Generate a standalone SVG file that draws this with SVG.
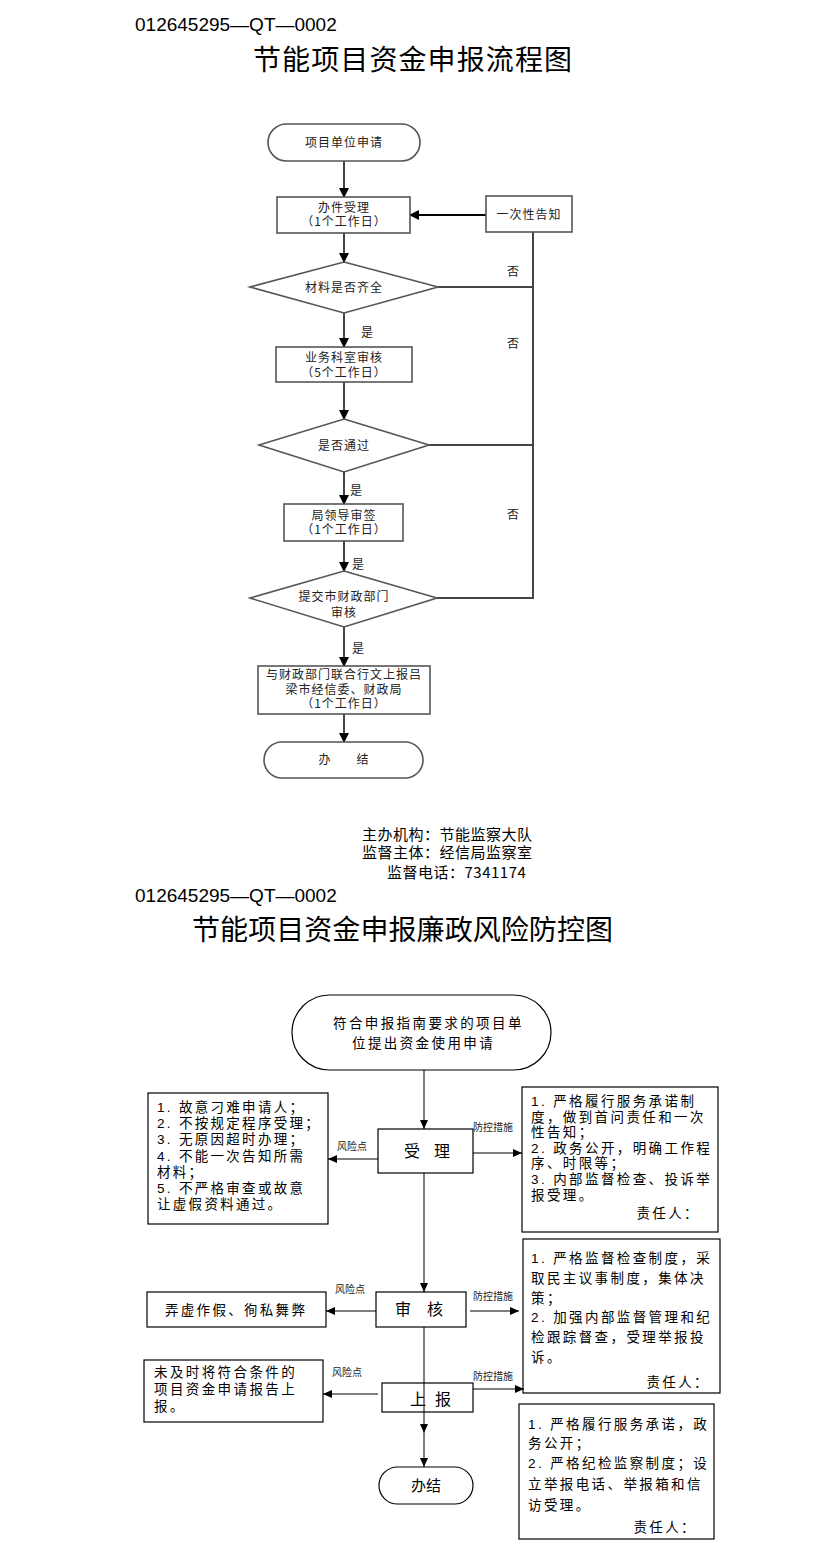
<svg xmlns="http://www.w3.org/2000/svg" width="823" height="1555" viewBox="0 0 823 1555">
<defs>
<style>
text{font-family:"Noto Sans CJK SC","Liberation Sans",sans-serif;fill:#000}
.code{font-family:"Liberation Sans","Noto Sans CJK SC",sans-serif;font-size:19px}
.title{font-size:28px}
.n{font-size:12px;letter-spacing:1px;text-anchor:middle;fill:#222}
.lbl{font-size:12px;fill:#222}
.foot{font-size:15px;letter-spacing:0.5px}
.t14{font-family:"Liberation Sans","Noto Sans CJK SC",sans-serif;font-size:13.5px;letter-spacing:2.3px}
.t14c{font-family:"Liberation Sans","Noto Sans CJK SC",sans-serif;font-size:13.5px;letter-spacing:2.4px}
.big{font-size:16px;text-anchor:middle}
.sm{font-size:10px;fill:#222}
.gbox{fill:#fff;stroke:#555;stroke-width:1.6}
.bbox{fill:none;stroke:#000;stroke-width:1.2}
.gl{fill:none;stroke:#444;stroke-width:2}
.bl{fill:none;stroke:#000;stroke-width:1}
</style>
<marker id="ah" markerUnits="userSpaceOnUse" markerWidth="10" markerHeight="10" refX="9" refY="5" orient="auto">
<path d="M0,0 L10,5 L0,10 Z" fill="#000"/>
</marker>
<marker id="ahs" markerUnits="userSpaceOnUse" markerWidth="9" markerHeight="8" refX="9" refY="4" orient="auto">
<path d="M0,0 L9,4 L0,8 Z" fill="#000"/>
</marker>
</defs>
<rect width="823" height="1555" fill="#fff"/>

<!-- Headers -->
<text class="code" x="135" y="31">012645295—QT—0002</text>
<text class="title" x="253" y="70" textLength="319">节能项目资金申报流程图</text>

<!-- Top flowchart connectors -->
<g id="connectors-top">
<line class="gl" x1="344" y1="161" x2="344" y2="197" marker-end="url(#ah)"/>
<line x1="486" y1="215" x2="410" y2="215" stroke="#000" stroke-width="2.2" marker-end="url(#ah)"/>
<line class="gl" x1="344" y1="233" x2="344" y2="262" marker-end="url(#ah)"/>
<line class="gl" x1="438" y1="287" x2="533" y2="287"/>
<line class="gl" x1="533" y1="232" x2="533" y2="599"/>
<line class="gl" x1="344" y1="313" x2="344" y2="347" marker-end="url(#ah)"/>
<line class="gl" x1="344" y1="382" x2="344" y2="419" marker-end="url(#ah)"/>
<line class="gl" x1="429" y1="445" x2="533" y2="445"/>
<line class="gl" x1="344" y1="472" x2="344" y2="504" marker-end="url(#ah)"/>
<line class="gl" x1="344" y1="541" x2="344" y2="571" marker-end="url(#ah)"/>
<line class="gl" x1="437" y1="598" x2="533" y2="598"/>
<line class="gl" x1="344" y1="627" x2="344" y2="666" marker-end="url(#ah)"/>
<line class="gl" x1="344" y1="714" x2="344" y2="742" marker-end="url(#ah)"/>
<text class="lbl" x="507" y="276">否</text>
<text class="lbl" x="507" y="348">否</text>
<text class="lbl" x="507" y="519">否</text>
<text class="lbl" x="361" y="337">是</text>
<text class="lbl" x="350" y="495">是</text>
<text class="lbl" x="352" y="569">是</text>
<text class="lbl" x="352" y="653">是</text>
</g>

<g id="start">
<rect class="gbox" x="268" y="124" width="152" height="37" rx="18.5"/>
<text class="n" x="344" y="147">项目单位申请</text>
</g>
<g id="accept">
<rect class="gbox" x="277" y="197" width="133" height="36"/>
<text class="n" x="344" y="212">办件受理</text>
<text class="n" x="344" y="226">（1个工作日）</text>
</g>
<g id="notify">
<rect class="gbox" x="486" y="196" width="86" height="36"/>
<text class="n" x="529" y="219">一次性告知</text>
</g>
<g id="check1">
<polygon class="gbox" points="344,262 438,287 344,313 250,287"/>
<text class="n" x="344" y="292">材料是否齐全</text>
</g>
<g id="review">
<rect class="gbox" x="276" y="347" width="136" height="35"/>
<text class="n" x="344" y="362">业务科室审核</text>
<text class="n" x="344" y="377">（5个工作日）</text>
</g>
<g id="check2">
<polygon class="gbox" points="344,419 429,445 344,472 259,445"/>
<text class="n" x="344" y="450">是否通过</text>
</g>
<g id="sign">
<rect class="gbox" x="284" y="504" width="119" height="37"/>
<text class="n" x="344" y="520">局领导审签</text>
<text class="n" x="344" y="534">（1个工作日）</text>
</g>
<g id="check3">
<polygon class="gbox" points="344,571 437,598 344,627 250,598"/>
<text class="n" x="344" y="601">提交市财政部门</text>
<text class="n" x="344" y="617">审核</text>
</g>
<g id="report">
<rect class="gbox" x="258" y="666" width="172" height="48"/>
<text class="n" x="344" y="679">与财政部门联合行文上报吕</text>
<text class="n" x="344" y="694">梁市经信委、财政局</text>
<text class="n" x="344" y="708">（1个工作日）</text>
</g>
<g id="end-top">
<rect class="gbox" x="264" y="742" width="159" height="36" rx="18"/>
<text class="n" x="325" y="764">办</text>
<text class="n" x="363" y="764">结</text>
</g>

<!-- Footer -->
<text class="foot" x="362" y="840">主办机构：节能监察大队</text>
<text class="foot" x="362" y="858">监督主体：经信局监察室</text>
<text class="foot" x="387" y="878">监督电话：7341174</text>

<!-- Second header -->
<text class="code" x="135" y="902">012645295—QT—0002</text>
<text class="title" x="192" y="940" textLength="421">节能项目资金申报廉政风险防控图</text>

<!-- Bottom connectors -->
<g id="connectors-bottom">
<line class="bl" x1="424" y1="1070" x2="424" y2="1129" marker-end="url(#ahs)"/>
<line class="bl" x1="424" y1="1173" x2="424" y2="1292" marker-end="url(#ahs)"/>
<line class="bl" x1="424" y1="1327" x2="424" y2="1433" marker-end="url(#ahs)"/>
<line class="bl" x1="424" y1="1433" x2="424" y2="1467" marker-end="url(#ahs)"/>
<line class="bl" x1="378" y1="1159" x2="328" y2="1159" marker-end="url(#ahs)"/>
<line class="bl" x1="473" y1="1153" x2="522" y2="1153" marker-end="url(#ahs)"/>
<line class="bl" x1="376" y1="1311" x2="326" y2="1311" marker-end="url(#ahs)"/>
<line class="bl" x1="470" y1="1311" x2="519" y2="1311" marker-end="url(#ahs)"/>
<line class="bl" x1="378" y1="1394" x2="323" y2="1394" marker-end="url(#ahs)"/>
<line class="bl" x1="473" y1="1389" x2="524" y2="1389" marker-end="url(#ahs)"/>
<text class="sm" x="337" y="1150">风险点</text>
<text class="sm" x="473" y="1131">防控措施</text>
<text class="sm" x="335" y="1293">风险点</text>
<text class="sm" x="473" y="1300">防控措施</text>
<text class="sm" x="332" y="1376">风险点</text>
<text class="sm" x="473" y="1380">防控措施</text>
</g>

<g id="apply">
<rect class="bbox" x="292" y="995" width="259" height="75" rx="37.5"/>
<text class="t14c" x="333" y="1028">符合申报指南要求的项目单</text>
<text class="t14c" x="352" y="1048">位提出资金使用申请</text>
</g>
<g id="shouli">
<rect class="bbox" x="378" y="1129" width="95" height="44"/>
<text class="big" x="412" y="1157">受</text>
<text class="big" x="442" y="1157">理</text>
</g>
<g id="risk1">
<rect class="bbox" x="148" y="1093" width="180" height="131"/>
<text class="t14" x="157" y="1112">1. 故意刁难申请人；</text>
<text class="t14" x="157" y="1128">2. 不按规定程序受理；</text>
<text class="t14" x="157" y="1144">3. 无原因超时办理；</text>
<text class="t14" x="157" y="1161">4. 不能一次告知所需</text>
<text class="t14" x="157" y="1177">材料；</text>
<text class="t14" x="157" y="1193">5. 不严格审查或故意</text>
<text class="t14" x="157" y="1209">让虚假资料通过。</text>
</g>
<g id="measure1">
<rect class="bbox" x="522" y="1087" width="196" height="145"/>
<text class="t14c" x="531" y="1106">1. 严格履行服务承诺制</text>
<text class="t14c" x="531" y="1122">度，做到首问责任和一次</text>
<text class="t14c" x="531" y="1137">性告知；</text>
<text class="t14c" x="531" y="1153">2. 政务公开，明确工作程</text>
<text class="t14c" x="531" y="1168">序、时限等；</text>
<text class="t14c" x="531" y="1184">3. 内部监督检查、投诉举</text>
<text class="t14c" x="531" y="1200">报受理。</text>
<text class="t14c" x="700" y="1218" text-anchor="end">责任人：</text>
</g>
<g id="shenhe">
<rect class="bbox" x="376" y="1292" width="90" height="35"/>
<text class="big" x="403" y="1315">审</text>
<text class="big" x="435" y="1315">核</text>
</g>
<g id="risk2">
<rect class="bbox" x="147" y="1292" width="179" height="35"/>
<text class="t14" x="165" y="1315">弄虚作假、徇私舞弊</text>
</g>
<g id="measure2">
<rect class="bbox" x="523" y="1239" width="197" height="154"/>
<text class="t14c" x="531" y="1263">1. 严格监督检查制度，采</text>
<text class="t14c" x="531" y="1283">取民主议事制度，集体决</text>
<text class="t14c" x="531" y="1303">策；</text>
<text class="t14c" x="531" y="1322">2. 加强内部监督管理和纪</text>
<text class="t14c" x="531" y="1342">检跟踪督查，受理举报投</text>
<text class="t14c" x="531" y="1362">诉。</text>
<text class="t14c" x="710" y="1387" text-anchor="end">责任人：</text>
</g>
<g id="shangbao">
<rect class="bbox" x="382" y="1383" width="91" height="29"/>
<text class="big" x="418" y="1405">上</text>
<text class="big" x="443" y="1405">报</text>
</g>
<g id="risk3">
<rect class="bbox" x="144" y="1360" width="179" height="62"/>
<text class="t14c" x="154" y="1377">未及时将符合条件的</text>
<text class="t14c" x="154" y="1394">项目资金申请报告上</text>
<text class="t14c" x="154" y="1411">报。</text>
</g>
<g id="measure3">
<rect class="bbox" x="519" y="1404" width="195" height="135"/>
<text class="t14c" x="528" y="1429">1. 严格履行服务承诺，政</text>
<text class="t14c" x="528" y="1448">务公开；</text>
<text class="t14c" x="528" y="1468">2. 严格纪检监察制度；设</text>
<text class="t14c" x="528" y="1489">立举报电话、举报箱和信</text>
<text class="t14c" x="528" y="1510">访受理。</text>
<text class="t14c" x="697" y="1532" text-anchor="end">责任人：</text>
</g>
<g id="end-bottom">
<rect class="bbox" x="379" y="1467" width="94" height="37" rx="18.5"/>
<text class="big" x="426" y="1491" style="font-size:15px">办结</text>
</g>
</svg>
